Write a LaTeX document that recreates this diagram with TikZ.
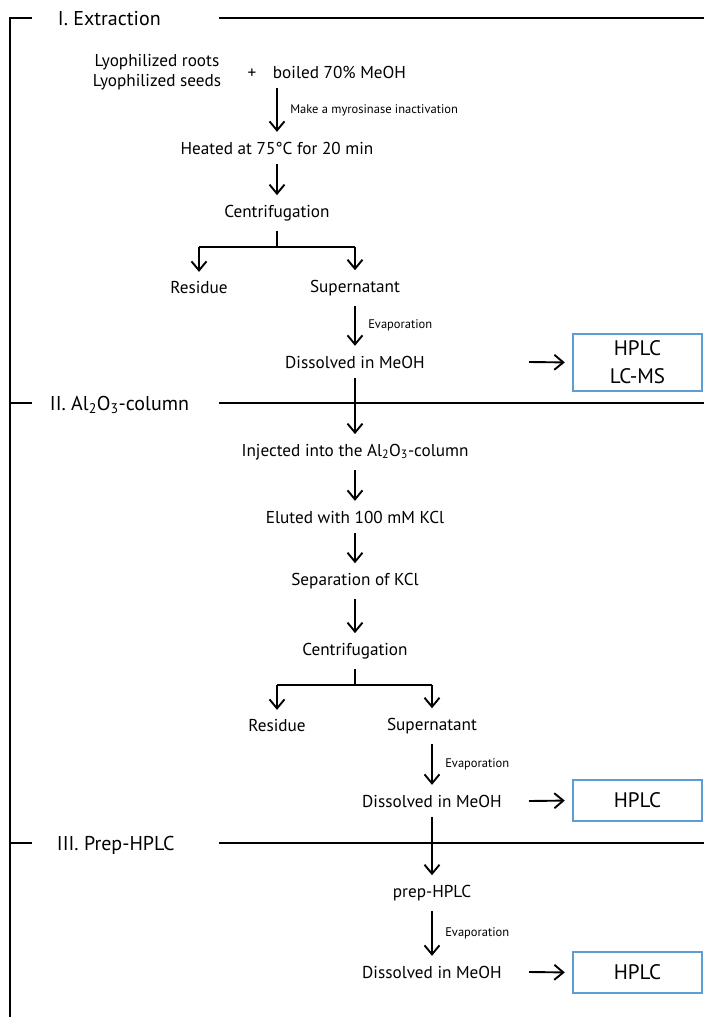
\documentclass[tikz,border=0pt]{standalone}
\usepackage{fontspec}
\setmainfont{PT Sans}
\usepackage{xcolor}
\usetikzlibrary{arrows.meta}
\definecolor{boxblue}{RGB}{94,156,214}

\begin{document}
\begin{tikzpicture}[x=1pt,y=-1pt,line width=1.9pt,
  txt/.style={inner xsep=2pt,inner ysep=9pt,font=\fontsize{17.2}{20}\selectfont},
  small/.style={right,xshift=9pt,font=\fontsize{12.5}{14}\selectfont},
  title/.style={anchor=base west,inner sep=0pt,font=\fontsize{20}{23}\selectfont},
  result/.style={draw=boxblue,line width=2.4pt,minimum width=129pt,minimum height=41pt,
    align=center,font=\fontsize{21}{28}\selectfont},
  arr/.style={-{Straight Barb[length=9pt,width=15pt]}}]
  \useasboundingbox (0,0) rectangle (704,1017);

  % frame and sections
  \draw (10,1017) -- (10,18) -- (32,18);
  \draw (219,18) -- (704,18);
  \draw (10,403) -- (32,403);
  \draw (219,403) -- (704,403);
  \draw (10,843) -- (32,843);
  \draw (219,843) -- (704,843);
  \node[title] (sec1) at (57,25) {I. Extraction};
  \node[title] (sec2) at (49,410) {II. Al\textsubscript{2}O\textsubscript{3}-column};
  \node[title] (sec3) at (56,850) {III. Prep-HPLC};

  % I. extraction
  \node[txt,align=center] (lyo) at (157,72) {Lyophilized roots\\Lyophilized seeds};
  \node[txt] (plus) at (252,74) {+};
  \node[txt,anchor=west] (meoh) at (270,72) {boiled 70\% MeOH};
  \node[txt] (heat) at (277,148) {Heated at 75°C for 20 min};
  \node[txt] (cent1) at (277,213) {Centrifugation};
  \coordinate (split1) at (277,247);
  \coordinate (brl1) at (199,247);
  \coordinate (brr1) at (355,247);
  \node[txt] (res1) at (199,288) {Residue};
  \node[txt] (sup1) at (355,288) {Supernatant};
  \node[txt] (dis1) at (355,362) {Dissolved in MeOH};
  \coordinate (q1) at (529,362);
  \node[result] (box1) at (637.5,362.5) [minimum height=57pt] {HPLC\\LC-MS};

  \path[arr] (heat |- meoh.south) edge node[small] {Make a myrosinase inactivation} (heat);
  \path[arr] (heat) edge (cent1);
  \draw (cent1) -- (split1);
  \draw (brl1) -- (brr1);
  \path[arr] (brl1) edge (res1);
  \path[arr] (brr1) edge (sup1);
  \path[arr] (sup1) edge node[small] {Evaporation} (dis1);
  \path[arr] (q1) edge[shorten >=7pt] (box1.west);

  % II. Al2O3-column
  \node[txt] (inj) at (355,452) {Injected into the Al\textsubscript{2}O\textsubscript{3}-column};
  \node[txt] (elu) at (355,517) {Eluted with 100 mM KCl};
  \node[txt] (sepk) at (355,581) {Separation of KCl};
  \node[txt] (cent2) at (355,651) {Centrifugation};
  \coordinate (split2) at (355,685);
  \coordinate (brl2) at (277,685);
  \coordinate (brr2) at (432,685);
  \node[txt] (res2) at (277,726) {Residue};
  \node[txt] (sup2) at (432,726) {Supernatant};
  \node[txt] (dis2) at (432,801) {Dissolved in MeOH};
  \coordinate (q2) at (529,801);
  \node[result] (box2) at (637.5,800.5) {HPLC};

  \path[arr] (dis1) edge (inj);
  \path[arr] (inj) edge (elu);
  \path[arr] (elu) edge (sepk);
  \path[arr] (sepk) edge (cent2);
  \draw (cent2) -- (split2);
  \draw (brl2) -- (brr2);
  \path[arr] (brl2) edge (res2);
  \path[arr] (brr2) edge (sup2);
  \path[arr] (sup2) edge node[small] {Evaporation} (dis2);
  \path[arr] (q2) edge[shorten >=7pt] (box2.west);

  % III. prep-HPLC
  \node[txt] (prep) at (432,893) {prep-HPLC};
  \node[txt] (dis3) at (432,972) {Dissolved in MeOH};
  \coordinate (q3) at (529,972);
  \node[result] (box3) at (637.5,972.5) {HPLC};

  \path[arr] (dis2) edge (prep);
  \path[arr] (prep) edge node[small] {Evaporation} (dis3);
  \path[arr] (q3) edge[shorten >=7pt] (box3.west);
\end{tikzpicture}
\end{document}
